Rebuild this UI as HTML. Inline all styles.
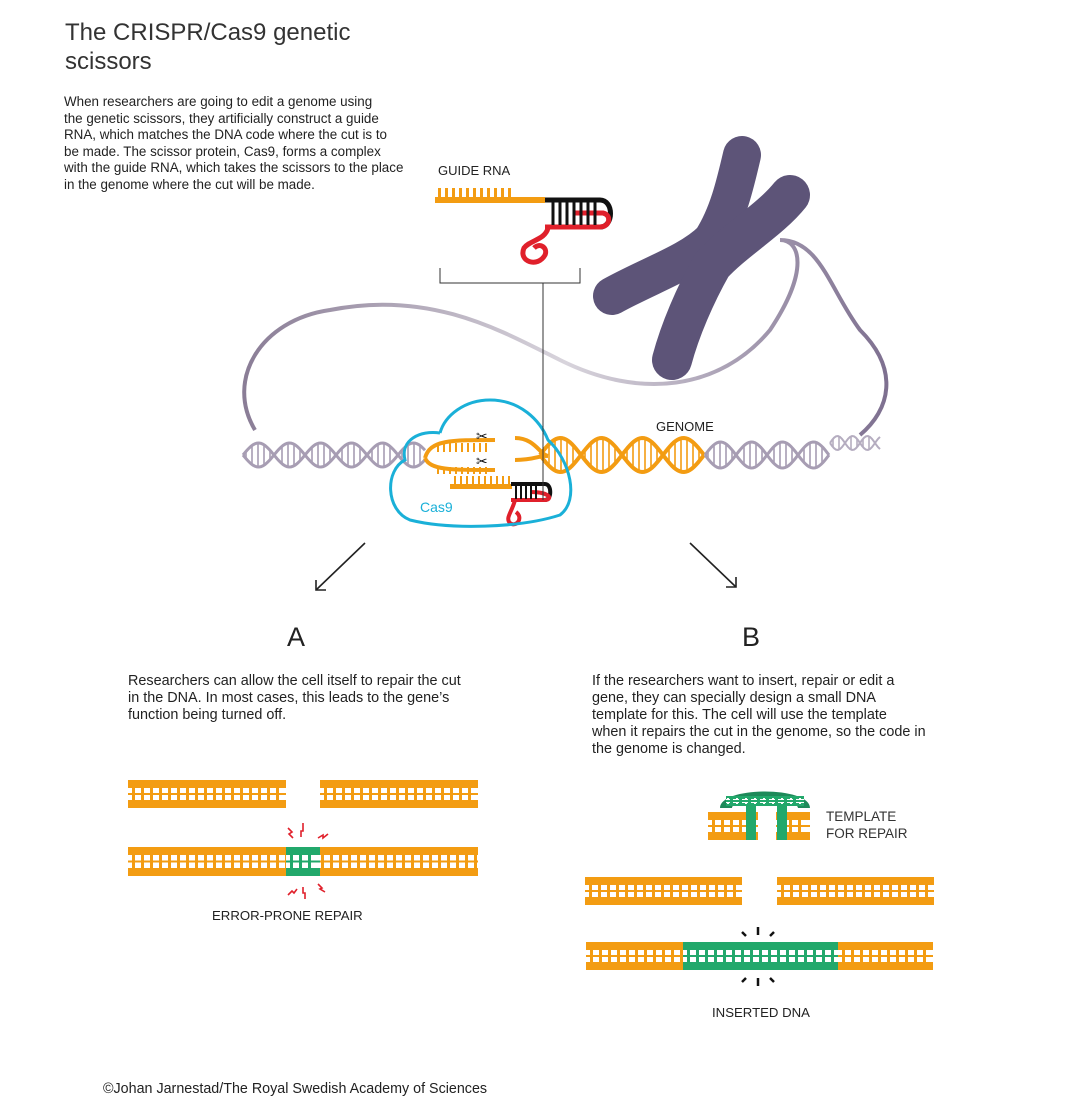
<!DOCTYPE html>
<html><head><meta charset="utf-8"><style>
body{margin:0;background:#fff;width:1080px;height:1119px;overflow:hidden;font-family:"Liberation Sans",sans-serif;color:#222}
.t{position:absolute;white-space:nowrap}
</style></head><body>
<div class="t" style="left:65px;top:18px;font-size:24px;line-height:29px;color:#333">The CRISPR/Cas9 genetic<br>scissors</div>
<div class="t" style="left:64px;top:94px;font-size:13.4px;line-height:16.6px;color:#222">When researchers are going to edit a genome using<br>the genetic scissors, they artificially construct a guide<br>RNA, which matches the DNA code where the cut is to<br>be made. The scissor protein, Cas9, forms a complex<br>with the guide RNA, which takes the scissors to the place<br>in the genome where the cut will be made.</div>
<div class="t" style="left:438px;top:163px;font-size:13px">GUIDE RNA</div>
<div class="t" style="left:656px;top:419px;font-size:13px">GENOME</div>
<div class="t" style="left:420px;top:499px;font-size:14px;color:#1ab0d8">Cas9</div>
<div class="t" style="left:287px;top:622px;font-size:27px">A</div>
<div class="t" style="left:742px;top:622px;font-size:27px">B</div>
<div class="t" style="left:128px;top:673px;font-size:14.4px;line-height:17px">Researchers can allow the cell itself to repair the cut<br>in the DNA. In most cases, this leads to the gene’s<br>function being turned off.</div>
<div class="t" style="left:592px;top:673px;font-size:14.4px;line-height:17px">If the researchers want to insert, repair or edit a<br>gene, they can specially design a small DNA<br>template for this. The cell will use the template<br>when it repairs the cut in the genome, so the code in<br>the genome is changed.</div>
<div class="t" style="left:212px;top:908px;font-size:13.2px">ERROR-PRONE REPAIR</div>
<div class="t" style="left:826px;top:808px;font-size:13.5px;line-height:17px;color:#333">TEMPLATE<br>FOR REPAIR</div>
<div class="t" style="left:712px;top:1005px;font-size:13.2px">INSERTED DNA</div>
<div class="t" style="left:103px;top:1081px;font-size:14.3px">©Johan Jarnestad/The Royal Swedish Academy of Sciences</div>

<svg id="s" width="1080" height="1119" style="position:absolute;left:0;top:0" xmlns="http://www.w3.org/2000/svg">
<defs>
<linearGradient id="lg" x1="0" x2="1"><stop offset="0" stop-color="#8a7d96"/><stop offset="0.5" stop-color="#d8d4dc"/><stop offset="1" stop-color="#7e7090"/></linearGradient>
</defs>
<path d="M255,430 C225,380 260,320 330,310 C430,290 500,330 560,360 C640,400 720,390 770,330 C810,270 800,240 780,240 C820,240 830,290 860,330 C900,370 890,410 860,435" fill="none" stroke="url(#lg)" stroke-width="4"/>
<g fill="none" stroke="#5d5478" stroke-linecap="round" stroke-linejoin="round">
<path d="M612,296 C650,275 690,262 712,240 C728,215 735,185 742,155" stroke-width="38"/>
<path d="M672,360 C680,330 695,295 712,265 C735,240 770,220 790,195" stroke-width="40"/>
</g>
<g id="helix"></g>
<path d="M440,433 C420,430 400,440 405,460 C385,470 385,510 410,520 C450,530 520,528 560,515 C580,500 570,460 548,440 C540,420 520,400 490,400 C465,400 445,415 440,433" fill="none" stroke="#1ab0d8" stroke-width="3"/>
<g id="grna"></g>
<path d="M440,268 L440,283 L580,283 L580,268" fill="none" stroke="#333" stroke-width="1"/>
<line x1="543" y1="283" x2="543" y2="500" stroke="#333" stroke-width="1"/>
<g stroke="#222" stroke-width="1.6" fill="none"><line x1="365" y1="543" x2="316" y2="590"/><path d="M316,580 L316,590 L326,590"/><line x1="690" y1="543" x2="736" y2="587"/><path d="M736,577 L736,587 L726,587"/></g>
<g id="lad"></g>
<g stroke="#e0202b" stroke-width="1.6" fill="none"><path d="M288,828 l4,4 -3,2 4,4"/><path d="M303,823 l0,8 -2,0 0,6"/><path d="M318,838 l5,-3 0,3 5,-4"/><path d="M288,895 l4,-4 2,2 3,-4"/><path d="M303,887 l0,6 2,0 0,6"/><path d="M318,884 l4,4 -2,1 5,3"/></g>
<g stroke="#111" stroke-width="2.5"><line x1="742" y1="932" x2="746" y2="936"/><line x1="758" y1="927" x2="758" y2="935"/><line x1="774" y1="932" x2="770" y2="936"/><line x1="742" y1="982" x2="746" y2="978"/><line x1="758" y1="978" x2="758" y2="986"/><line x1="774" y1="982" x2="770" y2="978"/></g>
<path d="M720,808 C720,786 810,786 810,808 L798,808 C798,798 732,798 732,808 Z" fill="#1e8a5a"/>
<g id="tmp"></g>
</svg>
<script>
const NS="http://www.w3.org/2000/svg",h=document.getElementById('helix');
function el(t,a,p){const e=document.createElementNS(NS,t);for(const k in a)e.setAttribute(k,a[k]);(p||h).appendChild(e);return e;}
function ladder(x,y,w,hh,col,p){
 el('rect',{x:x,y:y,width:w,height:hh,fill:col},p);
 const b=Math.round(hh*0.29);
 el('rect',{x:x,y:y+b,width:w,height:hh-2*b,fill:'#fff'},p);
 const m=y+hh/2;
 el('rect',{x:x,y:m-1,width:w,height:2,fill:col},p);
 for(let xx=x+4;xx<x+w-3;xx+=9){el('rect',{x:xx,y:y+b,width:3,height:hh-2*b,fill:col},p);}
 for(let xx=x+1;xx<x+w-2;xx+=9){el('rect',{x:xx,y:m-3,width:2,height:2,fill:'#fff'},p);el('rect',{x:xx,y:m+1,width:2,height:2,fill:'#fff'},p);}
}
const L=document.getElementById('lad');
ladder(128,780,158,28,'#f39c12',L);ladder(320,780,158,28,'#f39c12',L);
ladder(128,847,350,29,'#f39c12',L);ladder(286,847,34,29,'#22a86b',L);
ladder(585,877,157,28,'#f39c12',L);ladder(777,877,157,28,'#f39c12',L);
ladder(586,942,347,28,'#f39c12',L);ladder(683,942,155,28,'#22a86b',L);
const T=document.getElementById('tmp');
ladder(726,796,78,10,'#22a86b',T);
ladder(708,812,50,28,'#f39c12',T);ladder(776,812,34,28,'#f39c12',T);
el('rect',{x:746,y:805,width:10,height:35,fill:'#22a86b'},T);el('rect',{x:777,y:805,width:10,height:35,fill:'#22a86b'},T);
function helix(x0,x1,cy,amp,per,col,sw){
 let d1="",d2="";
 for(let x=x0;x<=x1;x+=2){const y=Math.sin((x-x0)/per*2*Math.PI)*amp;d1+=(x==x0?"M":"L")+x+","+(cy+y);d2+=(x==x0?"M":"L")+x+","+(cy-y);}
 for(let x=x0+3;x<x1;x+=6){const y=Math.sin((x-x0)/per*2*Math.PI)*amp;if(Math.abs(y)>3)el('line',{x1:x,x2:x,y1:cy-y,y2:cy+y,stroke:col,'stroke-width':1.6});}
 el('path',{d:d1,fill:'none',stroke:col,'stroke-width':sw});el('path',{d:d2,fill:'none',stroke:col,'stroke-width':sw});
}
helix(243,425,455,12,62,'#a79db3',3);
helix(540,705,455,17,82,'#f39c12',4);
helix(705,830,455,13,62,'#a79db3',3);
helix(830,880,443,7,30,'#b5adc0',2);
el('path',{d:"M425,458 C430,440 450,440 495,440",fill:'none',stroke:'#f39c12','stroke-width':4});
el('path',{d:"M425,458 C430,470 450,470 495,470",fill:'none',stroke:'#f39c12','stroke-width':4});
for(let x=438;x<492;x+=6){el('line',{x1:x,x2:x,y1:443,y2:452,stroke:'#f39c12','stroke-width':2});el('line',{x1:x,x2:x,y1:467,y2:474,stroke:'#f39c12','stroke-width':2});}
el('path',{d:"M515,438 C535,438 540,455 548,456",fill:'none',stroke:'#f39c12','stroke-width':4});
el('path',{d:"M515,460 C535,460 540,455 548,456",fill:'none',stroke:'#f39c12','stroke-width':4});
el('rect',{x:450,y:484,width:62,height:5,fill:'#f39c12'});
for(let x=455;x<510;x+=6)el('line',{x1:x,x2:x,y1:476,y2:484,stroke:'#f39c12','stroke-width':2});
el('text',{x:476,y:441,'font-size':14,fill:'#111'}).textContent="✂";
el('text',{x:476,y:466,'font-size':14,fill:'#111'}).textContent="✂";
el('path',{d:"M511,484 L545,484 C552,484 552,500 545,500 L511,500",fill:'none',stroke:'#111','stroke-width':4});
el('path',{d:"M530,492 C552,492 552,500 545,500 L511,500",fill:'none',stroke:'#e0202b','stroke-width':4});
for(let x=516;x<540;x+=5)el('line',{x1:x,x2:x,y1:485,y2:499,stroke:'#111','stroke-width':2});
el('path',{d:"M515,500 C512,512 505,518 510,523 C516,528 524,518 516,512",fill:'none',stroke:'#e0202b','stroke-width':4});
const g=document.getElementById('grna');
el('rect',{x:435,y:197,width:110,height:6,fill:'#f39c12'},g);
for(let x=438;x<510;x+=7)el('rect',{x:x,y:188,width:3,height:9,fill:'#f39c12'},g);
el('path',{d:"M545,200 L600,200 C614,200 614,227 600,227 L545,227",fill:'none',stroke:'#111','stroke-width':5},g);
el('path',{d:"M575,213 L603,213 C612,215 610,227 600,227 L545,227",fill:'none',stroke:'#e0202b','stroke-width':5},g);
for(let x=553;x<600;x+=7)el('line',{x1:x,x2:x,y1:202,y2:225,stroke:'#111','stroke-width':3},g);
el('path',{d:"M548,228 C545,240 530,240 524,248 C518,262 538,268 545,255 C548,248 540,242 534,248",fill:'none',stroke:'#e0202b','stroke-width':5},g);
</script>
</body></html>
